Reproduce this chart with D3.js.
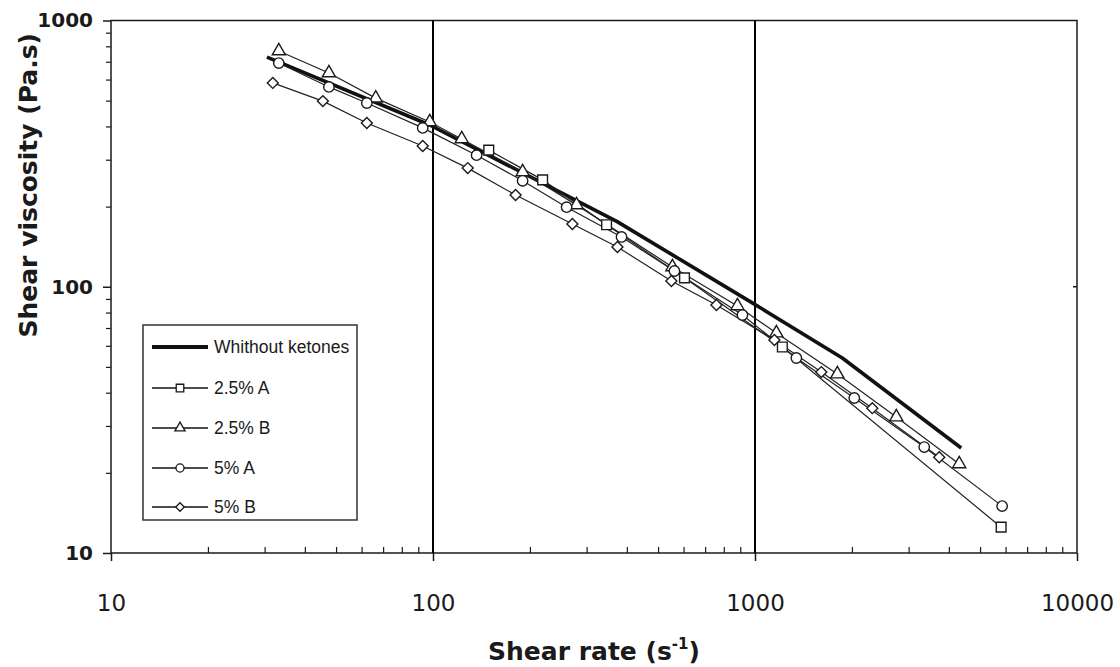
<!DOCTYPE html>
<html><head><meta charset="utf-8">
<script src="https://cdn.jsdelivr.net/npm/d3@7"></script>
<style>body{margin:0;background:#fff}</style>
</head><body>
<svg id="chart" width="1120" height="667"></svg>
<script>
// ---- data (shear rate s^-1, shear viscosity Pa.s) ----
const xTickValues = [10, 100, 1000, 10000];
const yTickValues = [10, 100, 1000];
const gridValues = [100, 1000];
const seriesNames = ["Whithout ketones", "2.5% A", "2.5% B", "5% A", "5% B"];
const withoutKetones = [[30.5,729],[97.7,405],[372,176],[981,87],[1867,54],[4369,24.8]];
const pct25A = [[149,326],[219,252],[346,171],[604,108],[1216,59.4],[5813,12.5]];
const pct25B = [[33.2,768],[47.5,635],[66.4,511],[97.7,416],[122.8,359],[189.8,270],[279,203],[554,118.7],[882,84.7],[1165,67.0],[1802,47.0],[2747,32.4],[4307,21.6]];
const pct5A = [[33.2,692],[47.5,563],[62.3,490],[92.9,395],[136.6,312],[189.8,250],[260,199],[385,153.8],[562,114.6],[914,78.3],[1344,54.0],[2034,38.2],[3354,25.0],[5855,15.0]];
const pct5B = [[31.8,583],[45.5,498],[62.3,412],[92.9,338],[128.2,279],[180.5,221],[271,172],[374,141],[550,105.1],[759,85.4],[1149,63.1],[1607,47.8],[2314,35.0],[3734,22.9]];

const svg = d3.select("#chart");
const L = 111, R = 1077, T = 20.5, B = 553;
const x = d3.scaleLog().domain([10, 10000]).range([L, R]);
const y = d3.scaleLog().domain([10, 1000]).range([B, T]);
const ink = "#1a1a1a";

// minor ticks
const minorX = [], minorY = [];
for (let e = 1; e < 4; e++) for (let m = 2; m <= 9; m++) minorX.push(m * Math.pow(10, e));
for (let e = 1; e < 3; e++) for (let m = 2; m <= 9; m++) minorY.push(m * Math.pow(10, e));

// frame
svg.append("rect").attr("x", L).attr("y", T).attr("width", R - L).attr("height", B - T)
  .attr("fill", "none").attr("stroke", ink).attr("stroke-width", 1.5);

// gridlines
svg.selectAll("line.grid").data(gridValues).enter().append("line")
  .attr("x1", d => x(d)).attr("x2", d => x(d)).attr("y1", T).attr("y2", B)
  .attr("stroke", "#000").attr("stroke-width", 2);

// x axis
const gx = svg.append("g").attr("transform", `translate(0,${B})`)
  .call(d3.axisBottom(x).tickValues(xTickValues).tickSize(8).tickPadding(34).tickFormat(d3.format("d")));
gx.select(".domain").remove();
gx.selectAll("line").attr("stroke", ink).attr("stroke-width", 1.5);
gx.selectAll("text").attr("font-family", "DejaVu Sans").attr("font-size", 23).attr("fill", ink);
const gxm = svg.append("g").attr("transform", `translate(0,${B})`)
  .call(d3.axisBottom(x).tickValues(minorX).tickSize(-6).tickFormat(""));
gxm.select(".domain").remove();
gxm.selectAll("line").attr("stroke", ink).attr("stroke-width", 1.2);

// y axis
const gy = svg.append("g").attr("transform", `translate(${L},0)`)
  .call(d3.axisLeft(y).tickValues(yTickValues).tickSize(8).tickPadding(10).tickFormat(d3.format("d")));
gy.select(".domain").remove();
gy.selectAll("line").attr("stroke", ink).attr("stroke-width", 1.5);
gy.selectAll("text").attr("font-family", "DejaVu Sans").attr("font-weight", "bold").attr("font-size", 20).attr("fill", ink);
const gym = svg.append("g").attr("transform", `translate(${L},0)`)
  .call(d3.axisLeft(y).tickValues(minorY).tickSize(5).tickFormat(""));
gym.select(".domain").remove();
gym.selectAll("line").attr("stroke", ink).attr("stroke-width", 1.2);
// small right tick at 100
svg.append("line").attr("x1", R - 4).attr("x2", R).attr("y1", y(100)).attr("y2", y(100))
  .attr("stroke", ink).attr("stroke-width", 1.5);

// titles
svg.append("text").attr("x", (L + R) / 2 + 0).attr("y", 660).attr("text-anchor", "middle")
  .attr("font-family", "DejaVu Sans").attr("font-weight", "bold").attr("font-size", 25).attr("fill", ink)
  .call(t => {
    t.append("tspan").text("Shear rate (s");
    t.append("tspan").attr("font-size", 15).attr("dy", -11).text("-1");
    t.append("tspan").attr("dy", 11).text(")");
  });
svg.append("text").attr("transform", `translate(37,${(T + 350) / 2}) rotate(-90)`).attr("text-anchor", "middle")
  .attr("font-family", "DejaVu Sans").attr("font-weight", "bold").attr("font-size", 25).attr("fill", ink)
  .text("Shear viscosity (Pa.s)");

// series
const line = d3.line().x(d => x(d[0])).y(d => y(d[1]));
const thin = [
  {data: pct25A, sym: d3.symbolSquare, size: 95, rot: 0},
  {data: pct25B, sym: d3.symbolTriangle, size: 75, rot: 0},
  {data: pct5A, sym: d3.symbolCircle, size: 85, rot: 0},
  {data: pct5B, sym: d3.symbolSquare, size: 60, rot: 45}
];
svg.append("path").attr("d", line(withoutKetones)).attr("fill", "none")
  .attr("stroke", "#111").attr("stroke-width", 3.6).attr("stroke-linejoin", "round");
thin.forEach(s => {
  svg.append("path").attr("d", line(s.data)).attr("fill", "none")
    .attr("stroke", "#222").attr("stroke-width", 1.2);
});
thin.forEach(s => {
  svg.append("g").selectAll("path").data(s.data).enter().append("path")
    .attr("d", d3.symbol().type(s.sym).size(s.size))
    .attr("transform", d => `translate(${x(d[0])},${y(d[1])}) rotate(${s.rot})`)
    .attr("fill", "#fff").attr("stroke", "#1a1a1a").attr("stroke-width", 1.4);
});

// legend
const lg = svg.append("g");
lg.append("rect").attr("x", 143).attr("y", 325).attr("width", 214).attr("height", 195)
  .attr("fill", "#fff").attr("stroke", "#333").attr("stroke-width", 1.5);
const rowsY = [347, 388, 428, 468, 507];
seriesNames.forEach((n, i) => {
  const yy = rowsY[i];
  lg.append("line").attr("x1", 152).attr("x2", 208).attr("y1", yy).attr("y2", yy)
    .attr("stroke", "#111").attr("stroke-width", i === 0 ? 4 : 1.3);
  if (i > 0) {
    const s = thin[i - 1];
    lg.append("path").attr("d", d3.symbol().type(s.sym).size(s.size * 0.6))
      .attr("transform", `translate(180,${yy}) rotate(${s.rot})`)
      .attr("fill", "#fff").attr("stroke", "#1a1a1a").attr("stroke-width", 1.3);
  }
  lg.append("text").attr("x", 214).attr("y", yy).attr("dy", "0.36em")
    .attr("font-family", "Liberation Sans, Arial, sans-serif").attr("font-size", 17.5).attr("fill", ink)
    .text(n);
});
</script>
</body></html>
